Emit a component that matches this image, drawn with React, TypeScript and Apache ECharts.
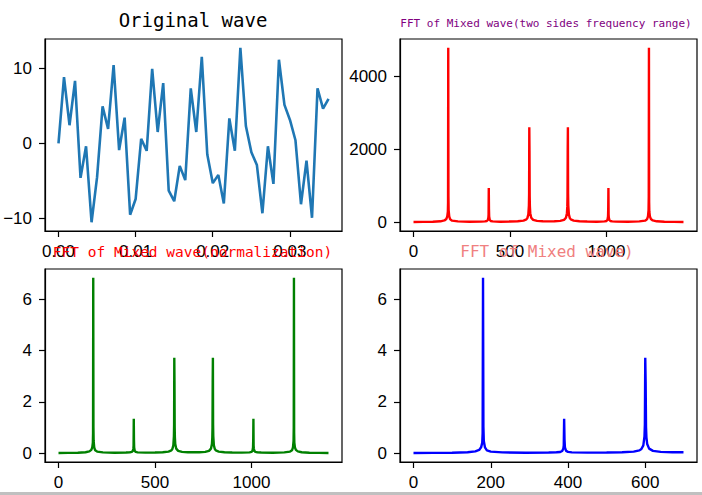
import React, { useEffect, useRef } from "react";
import * as echarts from "echarts";

// ---- Data ----
// Original wave: first 50 samples (sample spacing 1/1399 s)
const sampleStep = 1 / 1399;
const waveValues = [
  0, 8.8, 2.4, 8.3, -4.6, -0.4, -10.5, -4.5, 4.9, 1.9,
  10.4, -0.9, 3.4, -9.5, -7.4, 0.6, -1.0, 9.9, 1.5, 8.0,
  -6.3, -7.7, -3.0, -4.9, 7.3, 1.5, 11.5, -1.5, -5.3, -4.2,
  -8.0, 3.3, -1.0, 12.7, 2.3, -1.2, -2.9, -9.3, -0.4, -5.4,
  11.1, 5.1, 3.1, 0.4, -8.1, -2.3, -9.9, 7.3, 4.6, 5.9,
];

// FFT key points (frequency bin)
const fftBins = [
  0, 50, 100, 140, 160, 170, 175, 178, 179, 180, 181, 182, 185, 190, 200, 230, 290,
  350, 370, 380, 385, 388, 389, 390, 391, 392, 395, 400, 410, 450,
  500, 540, 570, 585, 590, 595, 598, 599, 600, 601, 602, 603, 605, 610, 620, 640, 670, 699,
  700, 730, 760, 780, 790, 795, 797, 798, 799, 800, 801, 802, 805, 810, 815, 830, 860, 900,
  950, 990, 1000, 1005, 1008, 1009, 1010, 1011, 1012, 1015, 1020, 1030, 1050,
  1110, 1170, 1200, 1210, 1215, 1218, 1219, 1220, 1221, 1222, 1225, 1230, 1240, 1260, 1300, 1350, 1399,
];

// |FFT| two sides
const fftTwoSided = [
  8, 10, 15, 26, 50, 90, 160, 290, 550, 4780, 715, 335, 160, 80, 45, 24, 14,
  18, 25, 35, 62, 130, 210, 940, 365, 160, 62, 36, 24, 16,
  20, 28, 45, 78, 115, 215, 460, 780, 2600, 1940, 710, 435, 250, 125, 65, 38, 28, 25,
  25, 28, 38, 65, 125, 250, 435, 710, 1940, 2600, 780, 460, 215, 115, 78, 45, 28, 20,
  16, 24, 36, 62, 160, 365, 940, 210, 130, 62, 35, 25, 18,
  14, 24, 45, 80, 160, 335, 715, 4780, 550, 290, 160, 90, 50, 26, 15, 10, 8,
];

// normalized |FFT|
const fftNormalized = [
  0.011, 0.014, 0.021, 0.037, 0.071, 0.129, 0.229, 0.414, 0.786, 6.829, 1.021, 0.479, 0.229, 0.114, 0.064, 0.034, 0.02,
  0.026, 0.036, 0.05, 0.089, 0.186, 0.3, 1.343, 0.521, 0.229, 0.089, 0.051, 0.034, 0.023,
  0.029, 0.04, 0.064, 0.111, 0.164, 0.307, 0.657, 1.114, 3.714, 2.771, 1.014, 0.621, 0.357, 0.179, 0.093, 0.054, 0.04, 0.036,
  0.036, 0.04, 0.054, 0.093, 0.179, 0.357, 0.621, 1.014, 2.771, 3.714, 1.114, 0.657, 0.307, 0.164, 0.111, 0.064, 0.04, 0.029,
  0.023, 0.034, 0.051, 0.089, 0.229, 0.521, 1.343, 0.3, 0.186, 0.089, 0.05, 0.036, 0.026,
  0.02, 0.034, 0.064, 0.114, 0.229, 0.479, 1.021, 6.829, 0.786, 0.414, 0.229, 0.129, 0.071, 0.037, 0.021, 0.014, 0.011,
];

const halfLimit = 699;

// Tick labels
const tlXTicks = [0, 0.01, 0.02, 0.03];
const tlYTicks = [-10, 0, 10];
const trXTicks = [0, 500, 1000];
const trYTicks = [0, 2000, 4000];
const blXTicks = [0, 500, 1000];
const blYTicks = [0, 2, 4, 6];
const brXTicks = [0, 200, 400, 600];
const brYTicks = [0, 2, 4, 6];

const titles = [
  "Original wave",
  "FFT of Mixed wave(two sides frequency range)",
  "FFT of Mixed wave(normalization)",
  "FFT of Mixed wave)",
];

const LABEL_FONT = "'Liberation Sans', Arial, sans-serif";
const TITLE_FONT = "'DejaVu Sans Mono', monospace";

const fmtMinus = (v: number, digits = 0) => {
  const s = Math.abs(v).toFixed(digits);
  return v < 0 ? "\u2212" + s : s;
};

function xAxisCfg(gridIndex: number, min: number, max: number, ticks: number[], digits: number) {
  return {
    type: "value",
    gridIndex,
    min,
    max,
    position: "bottom",
    splitLine: { show: false },
    axisLine: { show: true, onZero: false, lineStyle: { color: "#000", width: 1.2 } },
    axisTick: { show: true, length: 6, inside: false, customValues: ticks, lineStyle: { color: "#000", width: 1.2 } },
    axisLabel: {
      show: true,
      customValues: ticks,
      margin: 12,
      color: "#000",
      fontFamily: LABEL_FONT,
      fontSize: 17,
      formatter: (v: number) => fmtMinus(v, digits),
    },
  };
}

function yAxisCfg(gridIndex: number, min: number, max: number, ticks: number[]) {
  return {
    type: "value",
    gridIndex,
    min,
    max,
    position: "left",
    splitLine: { show: false },
    axisLine: { show: true, onZero: false, lineStyle: { color: "#000", width: 1.2 } },
    axisTick: { show: true, length: 6, inside: false, customValues: ticks, lineStyle: { color: "#000", width: 1.2 } },
    axisLabel: {
      show: true,
      customValues: ticks,
      margin: 13,
      color: "#000",
      fontFamily: LABEL_FONT,
      fontSize: 17,
      formatter: (v: number) => fmtMinus(v, 0),
    },
  };
}

export default function App() {
  const ref = useRef<HTMLDivElement>(null);

  useEffect(() => {
    if (!ref.current) return;
    const chart = echarts.init(ref.current, null, { renderer: "svg" });

    const waveData = waveValues.map((v, i) => [i * sampleStep, v]);
    const twoSidedData = fftBins.map((b, i) => [b, fftTwoSided[i]]);
    const normData = fftBins.map((b, i) => [b, fftNormalized[i]]);
    const halfData = normData.filter((p) => p[0] <= halfLimit);

    const gridBase = { show: true, borderColor: "#000", borderWidth: 1.2, backgroundColor: "#fff", containLabel: false };

    const option: any = {
      animation: false,
      backgroundColor: "#fff",
      grid: [
        { ...gridBase, left: 45, top: 39, width: 297, height: 192 },
        { ...gridBase, left: 400, top: 39, width: 297, height: 192 },
        { ...gridBase, left: 45, top: 269, width: 297, height: 193 },
        { ...gridBase, left: 400, top: 269, width: 297, height: 193 },
      ],
      xAxis: [
        xAxisCfg(0, -0.00175, 0.03677, tlXTicks, 2),
        xAxisCfg(1, -70, 1469, trXTicks, 0),
        xAxisCfg(2, -70, 1469, blXTicks, 0),
        xAxisCfg(3, -34.95, 733.95, brXTicks, 0),
      ],
      yAxis: [
        yAxisCfg(0, -11.66, 13.86, tlYTicks),
        yAxisCfg(1, -239, 5019, trYTicks),
        yAxisCfg(2, -0.3415, 7.171, blYTicks),
        yAxisCfg(3, -0.3415, 7.171, brYTicks),
      ],
      series: [
        {
          type: "line", xAxisIndex: 0, yAxisIndex: 0, data: waveData, showSymbol: false,
          lineStyle: { color: "#1f77b4", width: 2.6 }, itemStyle: { color: "#1f77b4" },
        },
        {
          type: "line", xAxisIndex: 1, yAxisIndex: 1, data: twoSidedData, showSymbol: false,
          lineStyle: { color: "#ff0000", width: 2.4 }, itemStyle: { color: "#ff0000" },
        },
        {
          type: "line", xAxisIndex: 2, yAxisIndex: 2, data: normData, showSymbol: false,
          lineStyle: { color: "#008000", width: 2.4 }, itemStyle: { color: "#008000" },
        },
        {
          type: "line", xAxisIndex: 3, yAxisIndex: 3, data: halfData, showSymbol: false,
          lineStyle: { color: "#0000ff", width: 2.4 }, itemStyle: { color: "#0000ff" },
        },
      ],
      graphic: [
        {
          type: "text", x: 193, y: 19.5, z: 100,
          style: { text: titles[0], font: `19px ${TITLE_FONT}`, fill: "#000", align: "center", verticalAlign: "middle" },
        },
        {
          type: "text", x: 546, y: 23, z: 100,
          style: { text: titles[1], font: `11px ${TITLE_FONT}`, fill: "#800080", align: "center", verticalAlign: "middle" },
        },
        {
          type: "text", x: 192.5, y: 251.7, z: 100,
          style: { text: titles[2], font: `14.5px ${TITLE_FONT}`, fill: "#ff0000", align: "center", verticalAlign: "middle" },
        },
        {
          type: "text", x: 547, y: 251.7, z: 100,
          style: { text: titles[3], font: `16px ${TITLE_FONT}`, fill: "#f08080", align: "center", verticalAlign: "middle" },
        },
        {
          type: "rect", z: 100,
          shape: { x: 0, y: 492, width: 702, height: 3 },
          style: { fill: "#c0c0c0" },
        },
      ],
    };

    chart.setOption(option);
    return () => chart.dispose();
  }, []);

  return (
    <div
      ref={ref}
      style={{ position: "absolute", left: 0, top: 0, width: 702, height: 495, background: "#fff" }}
    />
  );
}
